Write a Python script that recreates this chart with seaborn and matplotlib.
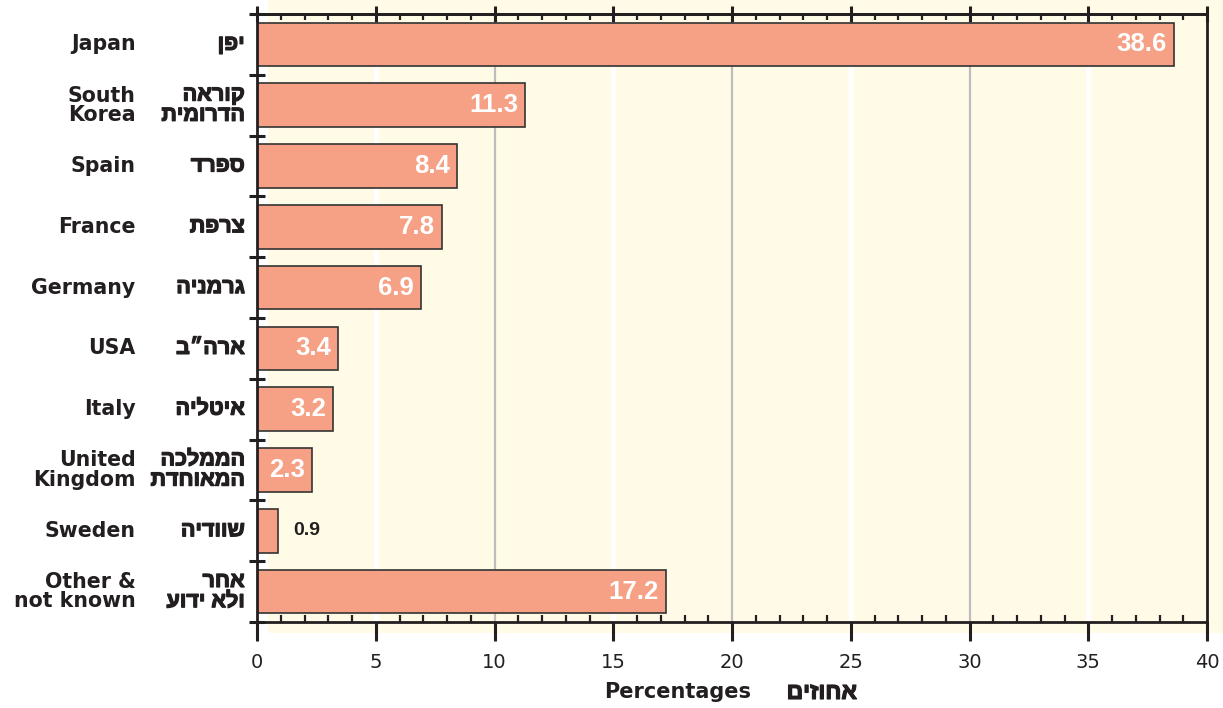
import matplotlib
matplotlib.use("Agg")
import matplotlib.pyplot as plt
import matplotlib.patheffects as pe
from matplotlib.patches import Rectangle
from matplotlib.ticker import MultipleLocator, FixedLocator
import seaborn as sns
import pandas as pd

# data
labels_en = ["Japan", "South\nKorea", "Spain", "France", "Germany", "USA",
             "Italy", "United\nKingdom", "Sweden", "Other &\nnot known"]
labels_he = ["יפן", "קוראה\nהדרומית", "ספרד", "צרפת", "גרמניה", "ארה״ב",
             "איטליה", "הממלכה\nהמאוחדת", "שוודיה", "אחר\nולא ידוע"]
shares = [38.6, 11.3, 8.4, 7.8, 6.9, 3.4, 3.2, 2.3, 0.9, 17.2]
x_ticks = [0, 5, 10, 15, 20, 25, 30, 35, 40]
xlabel_en = "Percentages"
xlabel_he = "אחוזים"

BAR = "#F6A085"
BG = "#FFFBE6"
INK = "#231F20"
HEB = ["Liberation Sans", "DejaVu Sans"]
# the hebrew bold in Liberation is thin, fatten it a little
heavy = [pe.withStroke(linewidth=0.9, foreground=INK)]


def rtl(s):
    # matplotlib lays glyphs out left to right, so flip each line by hand
    return "\n".join(line[::-1] for line in s.split("\n"))


df = pd.DataFrame({"label": labels_en, "share": shares})

fig = plt.figure(figsize=(12.23, 7.08), dpi=100)
# pale yellow panel behind the plot (sits a bit off the axes box)
fig.patches.append(Rectangle((268 / 1223, 75 / 708), 1 - 268 / 1223, 1 - 75 / 708,
                             transform=fig.transFigure, facecolor=BG,
                             edgecolor="none", zorder=-10))
ax = fig.add_axes([257 / 1223, 1 - 622 / 708, 950 / 1223, 608 / 708])
ax.patch.set_alpha(0)

for x in x_ticks[1:-1]:
    if x % 10 == 0:
        ax.axvline(x, color="#BDBDBD", lw=1.6, zorder=0)
    else:
        ax.axvline(x, color="white", lw=3.5, zorder=0)

sns.barplot(data=df, x="share", y="label", orient="h", color=BAR,
            saturation=1, edgecolor="#333333", linewidth=1.2, width=0.72,
            ax=ax, zorder=2)

for i, v in enumerate(shares):
    if v >= 2:
        ax.annotate(f"{v}", xy=(v, i), xytext=(-5, 0), textcoords="offset points",
                    ha="right", va="center", color="white", fontsize=18.5,
                    fontweight="bold", family=["Liberation Sans", "DejaVu Sans"],
                    zorder=3)
    else:
        ax.annotate(f"{v}", xy=(v, i), xytext=(11, 0), textcoords="offset points",
                    ha="left", va="center", color=INK, fontsize=14,
                    fontweight="bold",
                    family=["Liberation Sans Narrow", "Liberation Sans", "DejaVu Sans"],
                    zorder=3)

for i, (en, he) in enumerate(zip(labels_en, labels_he)):
    ax.text(-0.128, i, en, transform=ax.get_yaxis_transform(), ha="right",
            va="center", fontsize=14.8, fontweight="bold", color=INK,
            linespacing=0.95)
    ax.text(-0.013, i, rtl(he), transform=ax.get_yaxis_transform(), ha="right",
            va="center", fontsize=15.5, fontweight="bold", color=INK,
            family=HEB, linespacing=0.95, path_effects=heavy)

ax.set_xlim(0, 40)
ax.set_ylim(9.5, -0.5)
ax.set_xlabel("")
ax.set_ylabel("")

ax.xaxis.set_major_locator(FixedLocator(x_ticks))
ax.xaxis.set_minor_locator(MultipleLocator(1))
ax.set_xticklabels([str(t) for t in x_ticks])
ax.tick_params(axis="x", which="major", bottom=True, top=False, direction="out",
               length=14, width=2.2, color=INK, labelsize=14, labelcolor=INK, pad=8)
ax.tick_params(axis="x", which="minor", bottom=True, top=False, direction="in",
               length=5, width=1.6, color=INK)

# top axis: crossing major ticks, inward minor ticks, no labels
top = ax.secondary_xaxis("top")
top.xaxis.set_major_locator(FixedLocator(x_ticks))
top.xaxis.set_minor_locator(MultipleLocator(1))
top.tick_params(axis="x", which="major", direction="inout", length=12, width=2.2,
                color=INK, labeltop=False)
top.tick_params(axis="x", which="minor", direction="in", length=4.5, width=1.6,
                color=INK)
top.spines["top"].set_color(INK)
top.spines["top"].set_linewidth(2)

ax.set_yticks([])
ax.yaxis.set_minor_locator(FixedLocator([i - 0.5 for i in range(len(shares) + 1)]))
ax.tick_params(axis="y", which="minor", left=True, direction="inout", length=12,
               width=2.2, color=INK)

for side in ["left", "right", "top", "bottom"]:
    ax.spines[side].set_color(INK)
    ax.spines[side].set_linewidth(2)
ax.spines["left"].set_zorder(4)

fig.text(678 / 1223, 0.022, xlabel_en, ha="center", va="center", fontsize=15,
         fontweight="bold", color=INK)
fig.text(822 / 1223, 0.022, rtl(xlabel_he), ha="center", va="center", fontsize=16.5,
         fontweight="bold", color=INK, family=HEB, path_effects=heavy)

fig.savefig("out.png", dpi=100)
